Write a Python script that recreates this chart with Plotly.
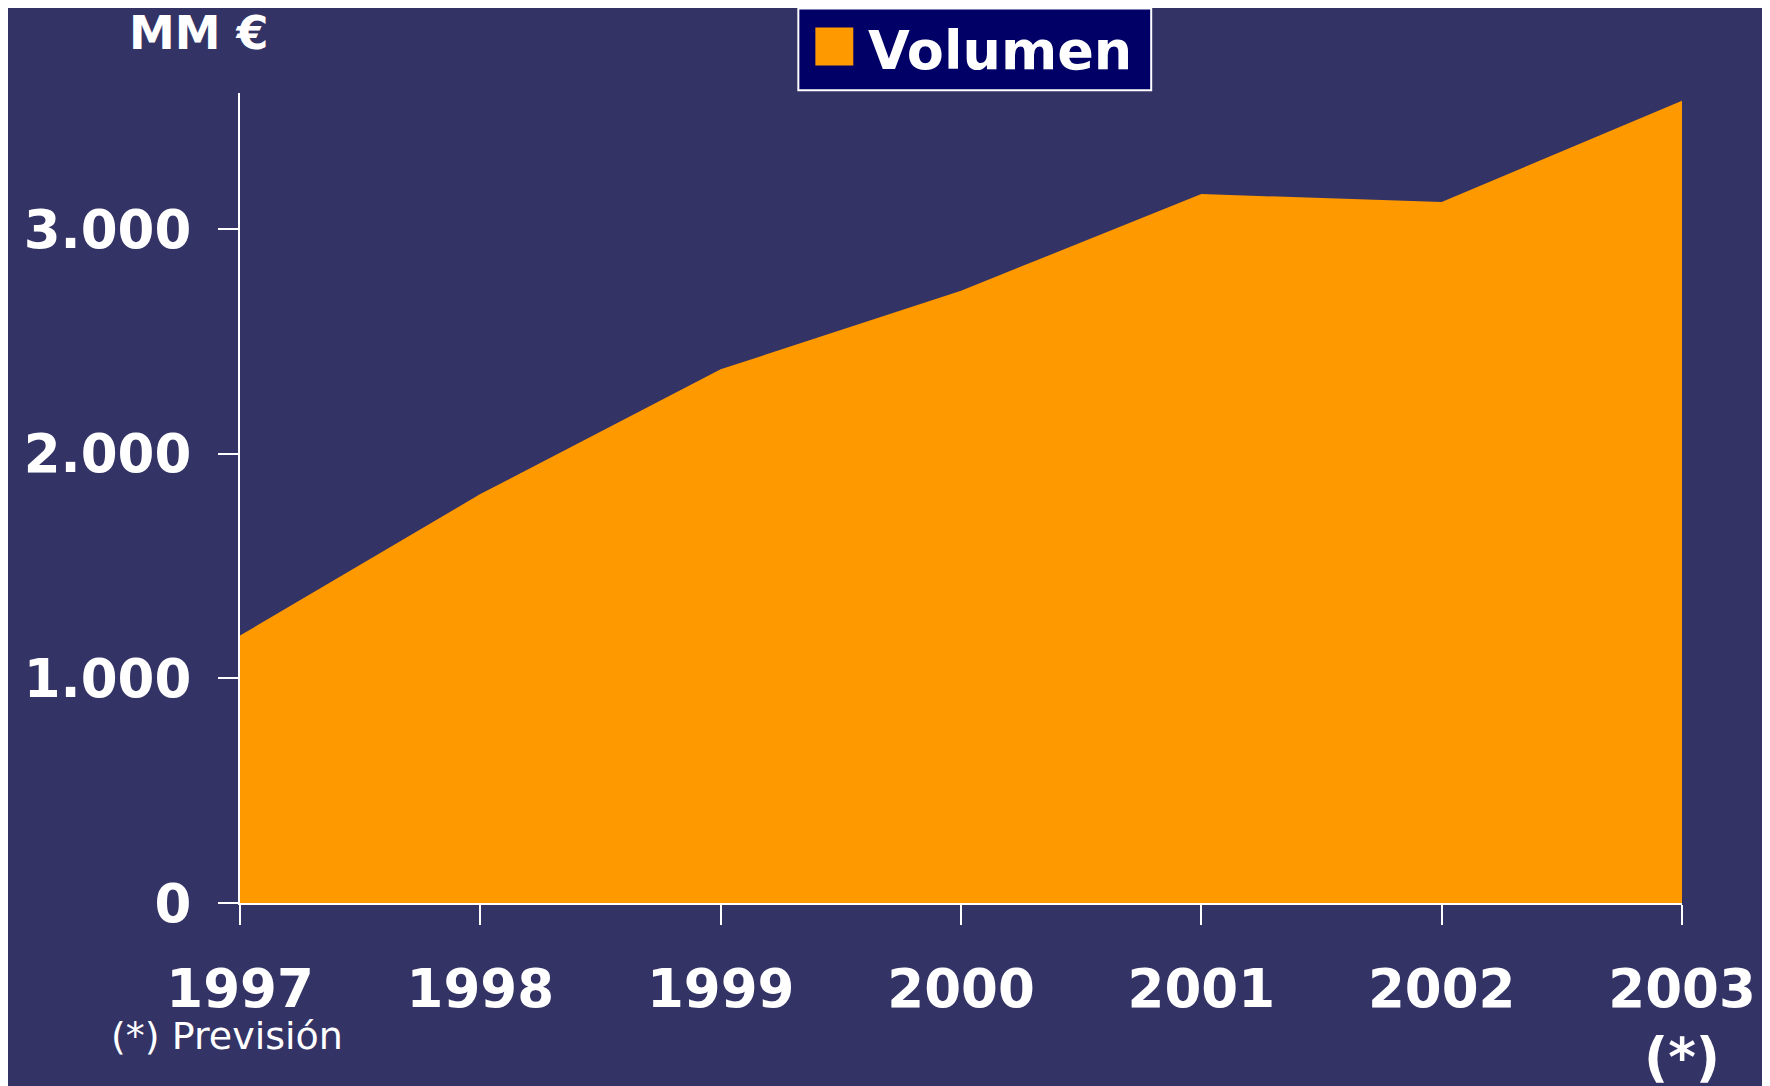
import plotly.graph_objects as go

# Volumen (MM €) por año
ANIOS = [1997, 1998, 1999, 2000, 2001, 2002, 2003]
VOLUMEN = [1190, 1820, 2375, 2725, 3155, 3120, 3570]
ETIQUETAS_X = ["1997", "1998", "1999", "2000", "2001", "2002", "2003<br>(*)"]
TICKS_Y = [0, 1000, 2000, 3000]

FONDO = "#343366"
NARANJA = "#FF9900"
AZUL_LEYENDA = "#000066"
FUENTE = "DejaVu Sans"

fig = go.Figure()
fig.add_trace(go.Scatter(
    x=ANIOS, y=VOLUMEN, mode="lines", fill="tozeroy",
    fillcolor=NARANJA, line=dict(color=NARANJA, width=0),
    name="Volumen", showlegend=False,
))

ejes = dict(
    showline=True, linecolor="white", linewidth=2,
    ticks="outside", tickcolor="white", tickwidth=2, ticklen=20,
    showgrid=False, zeroline=False,
    tickfont=dict(family=FUENTE, size=53, color="white", weight="bold"),
)

fig.update_xaxes(
    range=[1997, 2003], tickmode="array", tickvals=ANIOS,
    ticktext=ETIQUETAS_X, ticklabelstandoff=18, **ejes,
)
fig.update_yaxes(
    range=[0, 3605], tickmode="array", tickvals=TICKS_Y,
    tickformat=",d", ticklabelstandoff=16, **ejes,
)

# Leyenda dibujada a mano (caja azul, cuadrado naranja, texto)
fig.add_shape(type="rect", xref="paper", yref="paper",
              x0=0.3872, x1=0.6319, y0=1.0033, y1=1.1044,
              fillcolor=AZUL_LEYENDA, line=dict(color="white", width=2))
fig.add_shape(type="rect", xref="paper", yref="paper",
              x0=0.3990, x1=0.4253, y0=1.0341, y1=1.0810,
              fillcolor=NARANJA, line=dict(width=0))
fig.add_annotation(x=0.4340, y=1.052, xref="paper", yref="paper",
                   text="<b>Volumen</b>", showarrow=False,
                   xanchor="left", yanchor="middle",
                   font=dict(family=FUENTE, size=54, color="white"))

fig.add_annotation(x=-0.0281, y=1.0736, xref="paper", yref="paper",
                   text="<b>MM €</b>", showarrow=False,
                   xanchor="center", yanchor="middle",
                   font=dict(family=FUENTE, size=46, color="white"))
fig.add_annotation(x=-0.0093, y=-0.1645, xref="paper", yref="paper",
                   text="(*) Previsión", showarrow=False,
                   xanchor="center", yanchor="middle",
                   font=dict(family=FUENTE, size=38, color="white"))

# la página añade ~8 px de margen arriba/izquierda: se compensa aquí
fig.update_layout(
    width=1770, height=1086,
    margin=dict(l=231.5, r=96, t=84.6, b=191.3, autoexpand=False),
    plot_bgcolor=FONDO, paper_bgcolor=FONDO,
    separators=",.",
    font=dict(family=FUENTE, color="white"),
)

fig.write_html("out.html")
